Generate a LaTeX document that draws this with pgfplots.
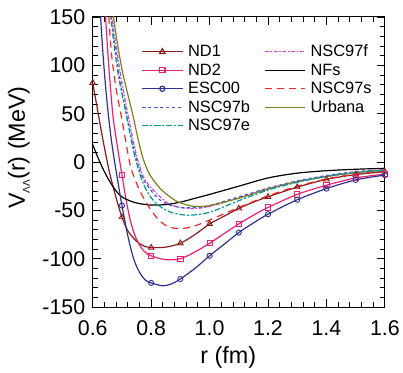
\documentclass[border=0pt]{standalone}
\usepackage{pgfplots}
\pgfplotsset{compat=1.18}
\usepackage{fontspec}
\setmainfont{Liberation Sans}
\definecolor{nd1}{RGB}{139,26,26}
\definecolor{nd2}{RGB}{238,32,110}
\definecolor{esc}{RGB}{46,49,146}
\definecolor{nscb}{RGB}{60,90,230}
\definecolor{nsce}{RGB}{0,150,150}
\definecolor{nscf}{RGB}{210,70,210}
\definecolor{nscs}{RGB}{240,40,40}
\definecolor{urb}{RGB}{128,128,32}
\begin{document}
\begin{tikzpicture}
\begin{axis}[
  scale only axis, width=293bp, height=291bp,
  xmin=0.6, xmax=1.6, ymin=-150, ymax=150,
  xtick={0.6,0.8,1.0,1.2,1.4,1.6},
  xticklabels={0.6,0.8,1.0,1.2,1.4,1.6},
  ytick={-150,-100,-50,0,50,100,150},
  minor x tick num=4, minor y tick num=4,
  tick align=inside,
  major tick length=8bp, minor tick length=5bp,
  axis line style={line width=1bp},
  every tick/.style={black, line width=0.8bp},
  every axis plot/.append style={line width=1.2bp},
  /pgf/number format/assume math mode=true,
  tick label style={font=\fontsize{21.5}{22}\selectfont},
  xticklabel style={yshift=-10bp},
  yticklabel style={xshift=-4bp},
  xlabel={r (fm)},
  ylabel={V\raisebox{-5bp}{\fontsize{10}{10}\selectfont ΛΛ}(r) (MeV)},
  every axis x label/.style={at={(axis description cs:0.464,-0.175)}, anchor=center, font=\fontsize{23.5}{24}\selectfont},
  every axis y label/.style={at={(axis description cs:-0.2526,0.55)}, rotate=90, anchor=center, font=\fontsize{23.5}{24}\selectfont},
  legend columns=2,
  legend cell align=left,
  legend image code/.code={\draw[mark repeat=2,mark phase=2,line width=1.2bp,#1] plot coordinates {(0bp,0bp) (20bp,0bp) (40bp,0bp)};},
  legend style={draw=none, fill=none, inner sep=0pt, outer sep=0pt,
    at={(0.168,0.9115)}, anchor=north west,
    font=\fontsize{16.5}{18}\selectfont,
    nodes={inner sep=1.25bp, text height=13bp, text depth=3bp},
    column sep=4bp,
    /tikz/every even column/.append style={column sep=13bp}},
]
% ND1
\addplot[nd1, smooth, no marks, legend image post style={mark=triangle, mark size=3.2bp, mark options={solid}}] coordinates {
(0.6,82)(0.61,65)(0.62,48)(0.63,31)(0.64,15)(0.65,0)(0.66,-14)(0.68,-37)(0.70,-57)(0.72,-71)(0.75,-82)(0.78,-87.5)(0.8,-88.5)(0.85,-88)(0.9,-84)(0.95,-75)(1.0,-64)(1.05,-56)(1.1,-48)(1.15,-41.5)(1.2,-36)(1.3,-26)(1.4,-18)(1.5,-13)(1.6,-10)};
\addlegendentry{ND1}
% NSC97f
\addplot[nscf, smooth, no marks, dash pattern=on 4bp off 1.6bp on 1.6bp off 1.6bp] coordinates {
(0.66,165)(0.666,150)(0.68,120)(0.70,82)(0.72,50)(0.74,20)(0.76,-4)(0.78,-19)(0.82,-33)(0.86,-43)(0.9,-47)(0.95,-48)(1.0,-46)(1.1,-37)(1.2,-27.5)(1.3,-20)(1.4,-14.5)(1.5,-10.5)(1.6,-8)};
\addlegendentry{NSC97f}
% ND2
\addplot[nd2, smooth, no marks, legend image post style={mark=square, mark size=2.6bp, mark options={solid}}] coordinates {
(0.64,170)(0.644,150)(0.652,112)(0.66,80)(0.67,46)(0.685,15)(0.70,-13)(0.715,-40)(0.73,-62)(0.75,-80)(0.775,-92)(0.8,-97)(0.85,-101)(0.9,-100)(0.95,-93)(1.0,-84)(1.05,-74)(1.1,-64)(1.15,-55)(1.2,-47)(1.3,-33.5)(1.4,-24)(1.5,-16.5)(1.6,-12.5)};
\addlegendentry{ND2}
% NFs
\addplot[black, smooth, no marks] coordinates {
(0.6,18)(0.62,3)(0.64,-10)(0.66,-21)(0.68,-30)(0.7,-36)(0.73,-40.5)(0.76,-43)(0.8,-44.5)(0.85,-44)(0.9,-41.5)(0.95,-37.5)(1.0,-33.5)(1.1,-25)(1.2,-16.5)(1.3,-11.5)(1.4,-9)(1.5,-7.5)(1.6,-6.5)};
\addlegendentry{NFs}
% ESC00
\addplot[esc, smooth, no marks, legend image post style={mark=o, mark size=2.6bp, mark options={solid}}] coordinates {
(0.62,185)(0.627,150)(0.635,112)(0.645,75)(0.655,45)(0.665,20)(0.675,0)(0.685,-18)(0.70,-45)(0.72,-76)(0.74,-100)(0.76,-114)(0.78,-122)(0.8,-125)(0.84,-128)(0.87,-126)(0.9,-121)(0.95,-110)(1.0,-97)(1.05,-85)(1.1,-73)(1.15,-63)(1.2,-54)(1.3,-39)(1.4,-27.5)(1.5,-18.5)(1.6,-13.5)};
\addlegendentry{ESC00}
% NSC97s
\addplot[nscs, smooth, no marks, dash pattern=on 7bp off 5bp] coordinates {
(0.65,175)(0.655,150)(0.665,110)(0.68,76)(0.70,44)(0.715,18)(0.73,-5)(0.75,-22)(0.77,-35)(0.8,-50)(0.83,-61)(0.86,-67)(0.9,-69)(0.95,-66)(1.0,-60)(1.1,-47)(1.2,-35)(1.3,-25)(1.4,-17.5)(1.5,-12.5)(1.6,-9.5)};
\addlegendentry{NSC97s}
% NSC97b
\addplot[nscb, smooth, no marks, dash pattern=on 3bp off 3bp] coordinates {
(0.655,175)(0.662,150)(0.677,118)(0.695,82)(0.715,50)(0.735,21)(0.755,-3)(0.775,-19)(0.815,-35)(0.85,-43)(0.9,-47)(0.95,-47)(1.0,-45)(1.1,-36)(1.2,-27)(1.3,-19.5)(1.4,-14)(1.5,-10)(1.6,-8)};
\addlegendentry{NSC97b}
% Urbana
\addplot[urb, smooth, no marks] coordinates {
(0.665,165)(0.671,150)(0.687,118)(0.705,89)(0.737,49)(0.755,24)(0.772,4)(0.795,-13)(0.83,-27)(0.86,-35)(0.89,-41)(0.93,-45)(0.96,-46)(1.0,-45)(1.1,-37.5)(1.2,-28)(1.3,-20.5)(1.4,-15)(1.5,-11)(1.6,-8.5)};
\addlegendentry{Urbana}
% NSC97e
\addplot[nsce, smooth, no marks, dash pattern=on 6bp off 2bp on 2bp off 2bp] coordinates {
(0.655,170)(0.662,150)(0.675,117)(0.69,86)(0.715,49)(0.73,26)(0.745,5)(0.77,-20)(0.8,-37)(0.84,-48)(0.88,-53)(0.93,-55)(1.0,-52)(1.1,-40)(1.2,-29)(1.3,-21)(1.4,-15)(1.5,-11)(1.6,-8.5)};
\addlegendentry{NSC97e}
% markers
\addplot[nd1, only marks, mark=triangle, mark size=3.2bp, line width=0.9bp, forget plot] coordinates {
(0.6,82)(0.7,-57)(0.8,-88.5)(0.9,-84)(1.0,-64)(1.1,-48)(1.2,-36)(1.3,-26)(1.4,-18)(1.5,-13)(1.6,-10)};
\addplot[nd2, only marks, mark=square, mark size=2.6bp, line width=0.9bp, forget plot] coordinates {
(0.7,-13)(0.8,-97)(0.9,-100)(1.0,-84)(1.1,-64)(1.2,-47)(1.3,-33.5)(1.4,-24)(1.5,-16.5)(1.6,-12.5)};
\addplot[esc, only marks, mark=o, mark size=2.6bp, line width=0.9bp, forget plot] coordinates {
(0.7,-45)(0.8,-125)(0.9,-121)(1.0,-97)(1.1,-73)(1.2,-54)(1.3,-39)(1.4,-27.5)(1.5,-18.5)(1.6,-13.5)};
\end{axis}
\path (current axis.south west) ++(-93bp,-65bp) rectangle ++(403bp,373bp);
\end{tikzpicture}
\end{document}
